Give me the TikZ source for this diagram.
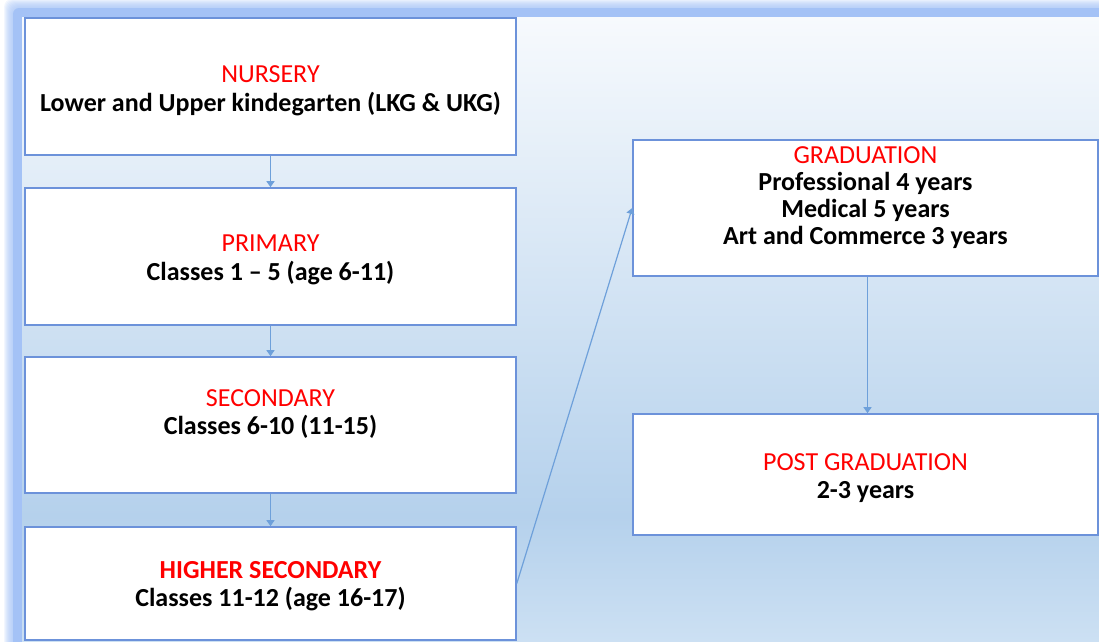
\documentclass[tikz,border=0pt]{standalone}
\usepackage{fontspec}
\setmainfont{Carlito}
\usetikzlibrary{arrows.meta}

\definecolor{bgtop}{RGB}{247,250,253}
\definecolor{bgmid}{RGB}{181,209,236}
\definecolor{bgbot}{RGB}{204,224,243}
\definecolor{glow}{RGB}{164,194,246}
\definecolor{boxline}{RGB}{108,146,218}
\definecolor{arrowline}{RGB}{110,160,218}
\pgfdeclareverticalshading{panelshade}{100bp}{color(0bp)=(bgbot); color(25bp)=(bgbot); color(35bp)=(bgmid); color(75bp)=(bgtop); color(100bp)=(bgtop)}

\begin{document}
\begin{tikzpicture}[x=1pt, y=-1pt,
    font=\fontsize{26}{28.5}\selectfont,
    box/.style={draw=boxline, line width=1.6pt, fill=white, inner sep=0pt},
    stage/.style={align=center},
    flow/.style={draw=arrowline, line width=1.2pt, -{Triangle[width=8pt,length=6pt]}}]
    \useasboundingbox (0,0) rectangle (1099,641);

    % soft frame and panel
    \foreach \i in {1,...,9}
        \fill[glow, opacity=0.14, rounded corners=8pt] ({13-\i},{8-\i}) rectangle (1130,670);
    \fill[glow, rounded corners=6pt] (13,8) rectangle (1130,670);
    \shade[shading=panelshade] (22,17) rectangle (1099,641);

    % school stages
    \node[box, minimum width=491pt, minimum height=137pt] (nursery) at (270.5,86.5) {};
    \node[box, minimum width=491pt, minimum height=137pt] (primary) at (270.5,256.5) {};
    \node[box, minimum width=491pt, minimum height=136pt] (secondary) at (270.5,425) {};
    \node[box, minimum width=491pt, minimum height=113pt] (higher) at (270.5,583.5) {};

    \node[stage] (nurserytext) at ([yshift=-4.5pt]nursery.center)
        {{\color{red}NURSERY}\\\textbf{Lower and Upper kindegarten (LKG \& UKG)}};
    \node[stage] (primarytext) at ([yshift=-3.5pt]primary.center)
        {{\color{red}PRIMARY}\\\textbf{Classes 1 -- 5 (age 6-11)}};
    \node[stage] (secondarytext) at ([yshift=11pt]secondary.center)
        {{\color{red}SECONDARY}\\\textbf{Classes 6-10 (11-15)}};
    \node[stage, font=\fontsize{26}{28}\selectfont] (highertext) at ([yshift=-2.5pt]higher.center)
        {\textbf{\color{red}HIGHER SECONDARY}\\\textbf{Classes 11-12 (age 16-17)}};

    % college stages
    \node[box, minimum width=465pt, minimum height=136pt] (grad) at (865.5,208) {};
    \node[box, minimum width=465pt, minimum height=121pt] (postgrad) at (865.5,474.5) {};

    \node[stage, font=\fontsize{26}{27}\selectfont] (gradtext) at ([yshift=10pt]grad.center)
        {{\color{red}GRADUATION}\\\textbf{Professional 4 years}\\\textbf{Medical 5 years}\\\textbf{Art and Commerce 3 years}};
    \node[stage] (postgradtext) at ([yshift=-3.5pt]postgrad.center)
        {{\color{red}POST GRADUATION}\\\textbf{2-3 years}};

    \draw[flow] (nursery) -- (primary);
    \draw[flow] (primary) -- (secondary);
    \draw[flow] (secondary) -- (higher);
    \draw[flow] (higher.east) -- (grad.west);
    \draw[flow] ([xshift=2pt]grad.south) -- ([xshift=2pt]postgrad.north);
\end{tikzpicture}
\end{document}
